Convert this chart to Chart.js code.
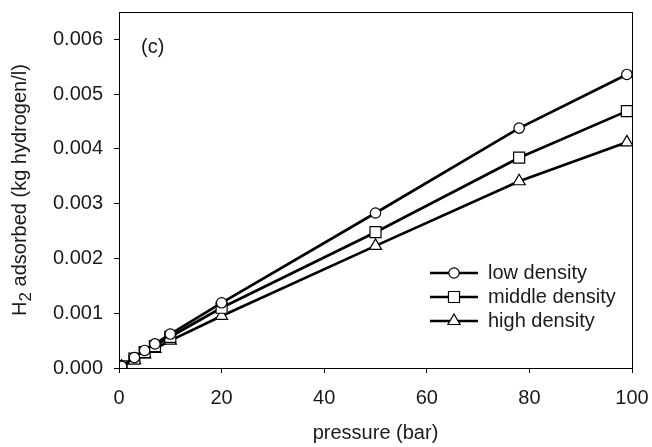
<!DOCTYPE html>
<html>
<head>
<meta charset="utf-8">
<script src="https://cdn.jsdelivr.net/npm/chart.js@4.4.1/dist/chart.umd.min.js"></script>
<style>
  html, body { margin: 0; padding: 0; background: #fff; }
  #wrap { width: 652px; height: 447px; }
</style>
</head>
<body>
<div id="wrap"><canvas id="c" width="652" height="447"></canvas></div>
<script>
const pressure = [0.5, 3, 5, 7, 10, 20, 50, 78, 99];
const lowDensity = [0.00003, 0.00019, 0.00032, 0.00044, 0.00062, 0.00119, 0.00283, 0.00438, 0.00536];
const middleDensity = [0.00003, 0.00017, 0.00029, 0.00040, 0.00057, 0.00110, 0.00248, 0.00384, 0.00469];
const highDensity = [0.000025, 0.00015, 0.00025, 0.00035, 0.00050, 0.00095, 0.00223, 0.00341, 0.00412];
const seriesNames = ["low density", "middle density", "high density"];
const markers = ["circle", "rect", "triangle"];
const markerSize = { circle: 5.2, rect: 7.8, triangle: 7 };

const font = "'Liberation Sans', Arial, sans-serif";
const ink = "#1a1a1a";

function toPoints(ys) {
  return pressure.map((x, i) => ({ x: x, y: ys[i] }));
}

function makeSet(label, ys, marker) {
  return {
    label: label,
    data: toPoints(ys),
    borderColor: "#000",
    borderWidth: 2.7,
    backgroundColor: "#fff",
    pointStyle: marker,
    pointRadius: markerSize[marker],
    pointBorderWidth: 1.2,
    pointBorderColor: "#000",
    pointBackgroundColor: "#fff",
    tension: 0
  };
}

// frame, "(c)" tag, y title with subscript, legend
const extras = {
  id: "extras",
  afterDatasetsDraw(chart) {
    const ctx = chart.ctx;
    const a = chart.chartArea;
    ctx.save();
    ctx.strokeStyle = "#000";
    ctx.lineWidth = 1;
    ctx.strokeRect(a.left + 0.5, a.top + 0.5, a.right - a.left, a.bottom - a.top);

    ctx.fillStyle = ink;
    ctx.font = "20px " + font;
    ctx.textBaseline = "middle";
    ctx.textAlign = "left";
    ctx.fillText("(c)", 141, 47);

    // y axis title: H2 adsorbed (kg hydrogen/l)
    ctx.save();
    ctx.translate(26, (a.top + a.bottom) / 2);
    ctx.rotate(-Math.PI / 2);
    ctx.textBaseline = "alphabetic";
    const big = "20px " + font, small = "17px " + font;
    const rest = " adsorbed (kg hydrogen/l)";
    ctx.font = big;
    const wH = ctx.measureText("H").width;
    const wRest = ctx.measureText(rest).width;
    ctx.font = small;
    const w2 = ctx.measureText("2").width;
    let x0 = -(wH + w2 + wRest) / 2;
    ctx.font = big;
    ctx.fillText("H", x0, 0);
    ctx.font = small;
    ctx.fillText("2", x0 + wH, 5);
    ctx.font = big;
    ctx.fillText(rest, x0 + wH + w2, 0);
    ctx.restore();

    const sets = chart.data.datasets;
    for (let i = 0; i < sets.length; i++) {
      const y = 273 + i * 24;
      ctx.strokeStyle = "#000";
      ctx.lineWidth = 2.4;
      ctx.beginPath();
      ctx.moveTo(430, y);
      ctx.lineTo(478, y);
      ctx.stroke();
      ctx.fillStyle = "#fff";
      ctx.lineWidth = 1.2;
      Chart.helpers.drawPoint(ctx, {
        pointStyle: markers[i], radius: markerSize[markers[i]], rotation: 0, borderWidth: 1.2
      }, 454, y);
      ctx.fillStyle = ink;
      ctx.font = "20px " + font;
      ctx.textBaseline = "middle";
      ctx.textAlign = "left";
      ctx.fillText(sets[i].label, 488, y);
    }
    ctx.restore();
  }
};

new Chart(document.getElementById("c"), {
  type: "line",
  data: {
    datasets: [
      makeSet(seriesNames[0], lowDensity, markers[0]),
      makeSet(seriesNames[1], middleDensity, markers[1]),
      makeSet(seriesNames[2], highDensity, markers[2])
    ]
  },
  options: {
    responsive: false,
    animation: false,
    layout: { padding: { top: 12, right: 20, left: 0, bottom: 0 } },
    plugins: { legend: { display: false }, tooltip: { enabled: false } },
    scales: {
      x: {
        type: "linear",
        min: 0,
        max: 100,
        ticks: { stepSize: 20, color: ink, font: { family: font, size: 20 }, padding: 13 },
        grid: { drawOnChartArea: false, drawTicks: true, tickLength: 5, color: "#000" },
        border: { display: true, color: "#000", width: 1 },
        title: { display: true, text: "pressure (bar)", color: ink, font: { family: font, size: 20 }, padding: { top: 4, bottom: 2 } },
        afterFit: s => { s.height = 79; s.paddingLeft = 0; s.paddingRight = 0; }
      },
      y: {
        type: "linear",
        min: 0,
        max: 0.0065,
        ticks: {
          stepSize: 0.001,
          includeBounds: false,
          color: ink,
          font: { family: font, size: 20 },
          padding: 11,
          callback: v => v.toFixed(3)
        },
        grid: { drawOnChartArea: false, drawTicks: true, tickLength: 5, color: "#000" },
        border: { display: true, color: "#000", width: 1 },
        afterFit: s => { s.width = 119; s.paddingTop = 0; s.paddingBottom = 0; }
      }
    }
  },
  plugins: [extras]
});
</script>
</body>
</html>
